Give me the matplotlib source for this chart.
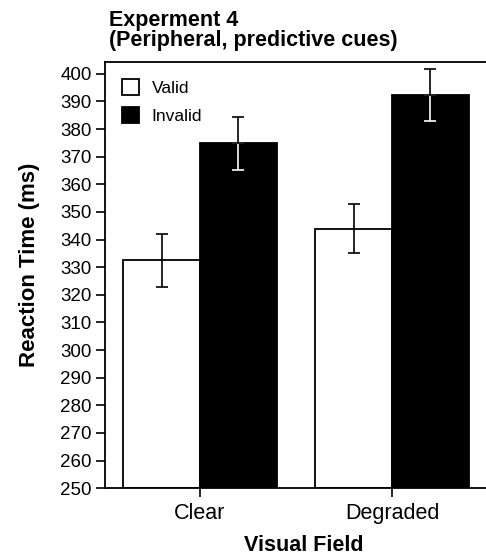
import numpy as np
import matplotlib.pyplot as plt

plt.rcParams['font.family'] = ['Liberation Sans', 'DejaVu Sans']

fields = ['Clear', 'Degraded']
valid = [332.5, 344.0]
invalid = [374.8, 392.3]
valid_err = [9.5, 9.0]
invalid_err = [9.7, 9.5]

fig = plt.figure(figsize=(4.86, 5.56), dpi=100)
ax = fig.add_axes([0.216, 0.122, 0.784, 0.7665])

x = np.arange(len(fields))
w = 0.4
ax.bar(x - w / 2, np.array(valid) - 250, w, bottom=250, color='white',
       edgecolor='black', linewidth=1.3, label='Valid')
ax.bar(x + w / 2, np.array(invalid) - 250, w, bottom=250, color='black',
       edgecolor='black', linewidth=1.3, label='Invalid')

# error bars: black on white bars, white below the top of the black bars
for xi, v, e in zip(x - w / 2, valid, valid_err):
    ax.errorbar(xi, v, yerr=e, fmt='none', ecolor='black',
                elinewidth=1.2, capsize=4.5, capthick=1.2)
for xi, v, e in zip(x + w / 2, invalid, invalid_err):
    ax.errorbar(xi, v, yerr=[[e], [0]], fmt='none', ecolor='white',
                elinewidth=1.2, capsize=4.5, capthick=1.2)
    ax.errorbar(xi, v, yerr=[[0], [e]], fmt='none', ecolor='black',
                elinewidth=1.2, capsize=4.5, capthick=1.2)

ax.set_ylim(250, 404.3)
ax.set_xlim(-0.495, 1.49)
ax.set_yticks(np.arange(250, 401, 10))
ax.set_xticks(x)
ax.set_xticklabels(fields, fontsize=15.5)
ax.tick_params(axis='y', labelsize=13.5, length=6.5, width=1.2, direction='out', pad=3)
ax.tick_params(axis='x', length=6.5, width=1.2, direction='out', pad=4)
for s in ax.spines.values():
    s.set_linewidth(1.3)
ax.spines['right'].set_visible(False)

ax.set_ylabel('Reaction Time (ms)', fontsize=16, fontweight='bold')
ax.yaxis.set_label_coords(-0.17, 0.525)
ax.set_xlabel('Visual Field', fontsize=15.5, fontweight='bold')
ax.xaxis.set_label_coords(0.522, -0.11)

fig.text(109 / 486, 1 - 26 / 556, 'Experment 4', fontsize=15.5,
         fontweight='bold', ha='left', va='baseline')
fig.text(109 / 486, 1 - 46 / 556, '(Peripheral, predictive cues)', fontsize=15.5,
         fontweight='bold', ha='left', va='baseline')

ax.legend(loc='upper left', bbox_to_anchor=(0.045, 0.96), frameon=False,
          fontsize=12.5, handlelength=1.0, handleheight=1.0, handletextpad=0.7,
          borderaxespad=0, borderpad=0, labelspacing=0.65)

fig.savefig('out.png', dpi=100)
